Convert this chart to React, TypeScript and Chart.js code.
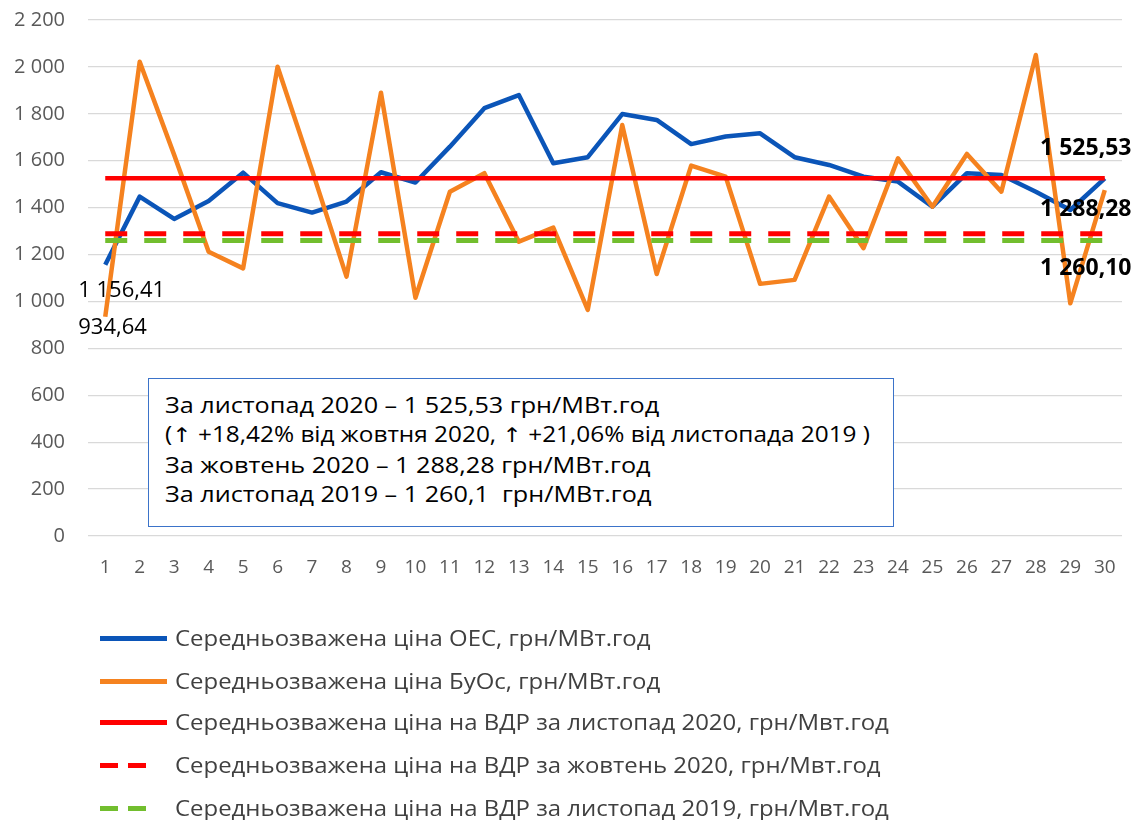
import React, { useEffect, useRef } from "react";
import { Chart, registerables } from "chart.js";

Chart.register(...registerables);

const days = ["1","2","3","4","5","6","7","8","9","10","11","12","13","14","15","16","17","18","19","20","21","22","23","24","25","26","27","28","29","30"];

const oesPrices = [1156.41, 1447, 1352, 1428, 1549, 1419, 1379, 1426, 1551, 1507, 1660, 1824, 1880, 1589, 1615, 1799, 1774, 1671, 1703, 1717, 1615, 1582, 1532, 1511, 1404, 1547, 1539, 1468, 1390, 1525];

const buosPrices = [934.64, 2022, 1625, 1212, 1141, 2001, 1560, 1106, 1890, 1016, 1468, 1547, 1255, 1315, 964, 1752, 1117, 1579, 1532, 1075, 1092, 1447, 1227, 1610, 1404, 1629, 1468, 2051, 992, 1475];

const avgNov2020 = 1525.53;
const avgOct2020 = 1288.28;
const avgNov2019 = 1260.10;

const seriesNames = [
  "Середньозважена ціна ОЕС, грн/МВт.год",
  "Середньозважена ціна БуОс, грн/МВт.год",
  "Середньозважена ціна на ВДР за листопад 2020, грн/Мвт.год",
  "Середньозважена ціна на ВДР за жовтень 2020, грн/Мвт.год",
  "Середньозважена ціна на ВДР за листопад 2019, грн/Мвт.год",
];
const seriesColors = ["#0B55B8", "#F5821F", "#FF0000", "#FF0000", "#72BE2E"];
const seriesDashed = [false, false, false, true, true];

// box text segments; "↑" rendered with a font that has the glyph
const boxLines: string[][] = [
  ["За листопад 2020 – 1 525,53 грн/МВт.год"],
  ["(", "↑", " +18,42% від жовтня 2020, ", "↑", " +21,06% від листопада 2019 )"],
  ["За жовтень 2020 – 1 288,28 грн/МВт.год"],
  ["За листопад 2019 – 1 260,1  грн/МВт.год"],
];
const boxScale = [1.2, 1.16, 1.2, 1.2];

const FONT = "'Open Sans', 'Noto Sans', sans-serif";

const fmt = (v: number) => {
  const s = String(Math.round(v));
  return s.replace(/\B(?=(\d{3})+(?!\d))/g, " ");
};

// value labels: [datasetIndex, pointIndex, text, dx, dy, bold, align, size]
const valueLabels: [number, number, string, number, number, boolean, CanvasTextAlign, number][] = [
  [0, 0, "1 156,41", -27, 26, false, "left", 22],
  [1, 0, "934,64", -27, 11, false, "left", 22],
  [2, 29, "1 525,53", -19, -30, true, "center", 23],
  [3, 29, "1 288,28", -19, -24, true, "center", 23],
  [4, 29, "1 260,10", -19, 28, true, "center", 23],
];

const labelPlugin = {
  id: "valueLabels",
  afterDatasetsDraw(chart: any) {
    const ctx = chart.ctx;
    const xs = chart.scales.x;
    const ys = chart.scales.y;
    ctx.save();
    ctx.fillStyle = "#000";
    ctx.textBaseline = "middle";
    for (const [di, pi, text, dx, dy, bold, align, size] of valueLabels) {
      const v = chart.data.datasets[di].data[pi];
      const x = xs.getPixelForValue(pi) + dx;
      const y = ys.getPixelForValue(v) + dy;
      ctx.font = `${bold ? "bold " : ""}${size}px ${FONT}`;
      ctx.textAlign = align;
      ctx.fillText(text, x, y);
    }
    ctx.restore();
  },
};

const SHIFT = 15;

export default function App() {
  const ref = useRef<HTMLCanvasElement>(null);

  useEffect(() => {
    if (!ref.current) return;
    const seriesData = [
      oesPrices,
      buosPrices,
      days.map(() => avgNov2020),
      days.map(() => avgOct2020),
      days.map(() => avgNov2019),
    ];
    const chart = new Chart(ref.current, {
      type: "line",
      data: {
        labels: days,
        datasets: seriesData.map((d, i) => ({
          label: seriesNames[i],
          data: d,
          borderColor: seriesColors[i],
          backgroundColor: seriesColors[i],
          borderWidth: i >= 3 ? 5 : 4.5,
          borderDash: seriesDashed[i] ? [22, 17] : [],
          pointRadius: 0,
          tension: 0,
          order: 10 - i,
          borderCapStyle: "butt",
          borderJoinStyle: "round",
        })),
      },
      options: {
        responsive: false,
        animation: false,
        layout: { padding: { left: 0, top: 0, right: 20, bottom: 0 } },
        plugins: {
          legend: { display: false },
          tooltip: { enabled: false },
          title: { display: false },
        },
        scales: {
          x: {
            type: "category",
            offset: true,
            grid: { display: false, drawTicks: false },
            border: { display: false },
            ticks: {
              color: "#595959",
              font: { family: FONT, size: 19 },
              padding: 20,
              maxRotation: 0,
              autoSkip: false,
            },
            afterFit: (s: any) => { s.height = 820 - 536; },
          },
          y: {
            min: 0,
            max: 2200,
            grid: { color: "#D9D9D9", lineWidth: 1.3, drawTicks: false },
            border: { display: false },
            ticks: {
              stepSize: 200,
              color: "#595959",
              font: { family: FONT, size: 20 },
              padding: 23,
              callback: (v: any) => fmt(Number(v)),
            },
            afterFit: (s: any) => { s.width = 88; },
          },
        },
      },
      plugins: [labelPlugin],
    });
    return () => chart.destroy();
  }, []);

  const legendTop = [638, 681, 722, 765, 808];
  const boxTop = [405, 434, 465, 494];

  return (
    <div style={{ position: "absolute", left: 0, top: 0, width: 1142, height: 820, background: "#fff", overflow: "hidden", fontFamily: FONT }}>
      <canvas ref={ref} width={1142} height={820 + SHIFT} style={{ position: "absolute", left: 0, top: -SHIFT }} />
      <div style={{ position: "absolute", left: 148, top: 378, width: 746, height: 149, boxSizing: "border-box", border: "1.5px solid #3B73C9", background: "#fff" }} />
      {boxLines.map((segs, i) => (
        <div key={i} style={{ position: "absolute", left: 165, top: boxTop[i] - 15, height: 30, lineHeight: "30px", fontSize: 21, color: "#000", whiteSpace: "pre", transform: `scaleX(${boxScale[i]})`, transformOrigin: "left center" }}>
          {segs.map((s, j) =>
            s === "↑" ? (
              <span key={j} style={{ fontFamily: "'DejaVu Sans'", fontSize: 20, color: "#000" }}>{s}</span>
            ) : (
              <span key={j}>{s}</span>
            )
          )}
        </div>
      ))}
      {seriesNames.map((n, i) => (
        <div key={i} style={{ position: "absolute", left: 100, top: legendTop[i] - 15, height: 30, display: "flex", alignItems: "center" }}>
          {seriesDashed[i] ? (
            <div style={{ width: 67, height: 5, display: "flex", gap: 10 }}>
              <div style={{ width: 18, height: 5, background: seriesColors[i] }} />
              <div style={{ width: 18, height: 5, background: seriesColors[i] }} />
            </div>
          ) : (
            <div style={{ width: 67, height: 5, background: seriesColors[i] }} />
          )}
          <div style={{ marginLeft: 8, fontSize: 21, color: "#404040", whiteSpace: "pre", lineHeight: "30px", transform: "scaleX(1.14)", transformOrigin: "left center" }}>{n}</div>
        </div>
      ))}
    </div>
  );
}
